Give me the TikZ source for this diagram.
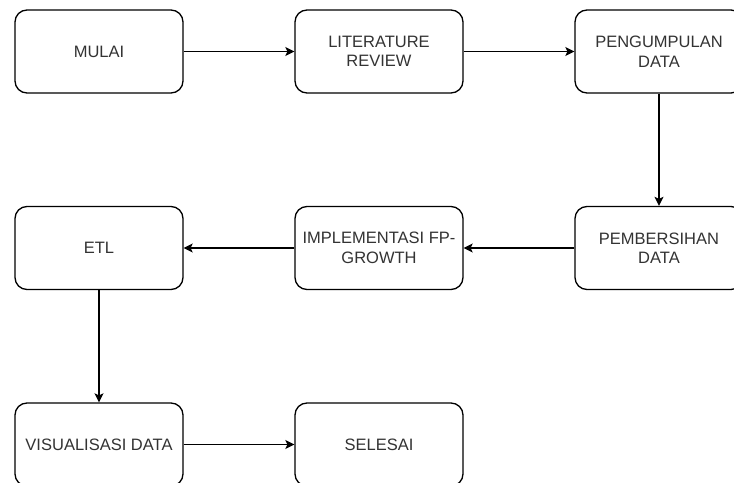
\documentclass[tikz,border=0pt]{standalone}
\usepackage{fontspec}
\setmainfont{Liberation Sans}
\usetikzlibrary{arrows.meta}
\definecolor{txt}{HTML}{333333}
\begin{document}
\begin{tikzpicture}[x=1bp,y=-1bp,
  proc/.style={draw=black, line width=1.3bp, rounded corners=12bp, fill=white,
    minimum width=168bp, minimum height=83bp, inner sep=0pt, align=center,
    text=txt, font=\fontsize{16.5bp}{19.5bp}\selectfont},
  conn/.style={draw=black, line width=1.3bp, -{Stealth[length=9bp,width=9bp,inset=2bp]}}]
\useasboundingbox (0,0) rectangle (734,483);
\fill[white] (0,0) rectangle (734,483);
\clip (0,0) rectangle (734,483);
\node[proc] (mulai) at (99,51.5) {MULAI};
\node[proc] (lit) at (379,51.5) {LITERATURE\\REVIEW};
\node[proc] (kumpul) at (659,51.5) {PENGUMPULAN\\DATA};
\node[proc] (etl) at (99,248) {ETL};
\node[proc] (impl) at (379,248) {IMPLEMENTASI FP-\\GROWTH};
\node[proc] (bersih) at (659,248) {PEMBERSIHAN\\DATA};
\node[proc] (vis) at (99,444.5) {VISUALISASI DATA};
\node[proc] (selesai) at (379,444.5) {SELESAI};
\draw[conn] (mulai) -- (lit);
\draw[conn] (lit) -- (kumpul);
\draw[conn] (kumpul) -- (bersih);
\draw[conn] (bersih) -- (impl);
\draw[conn] (impl) -- (etl);
\draw[conn] (etl) -- (vis);
\draw[conn] (vis) -- (selesai);
\end{tikzpicture}
\end{document}
